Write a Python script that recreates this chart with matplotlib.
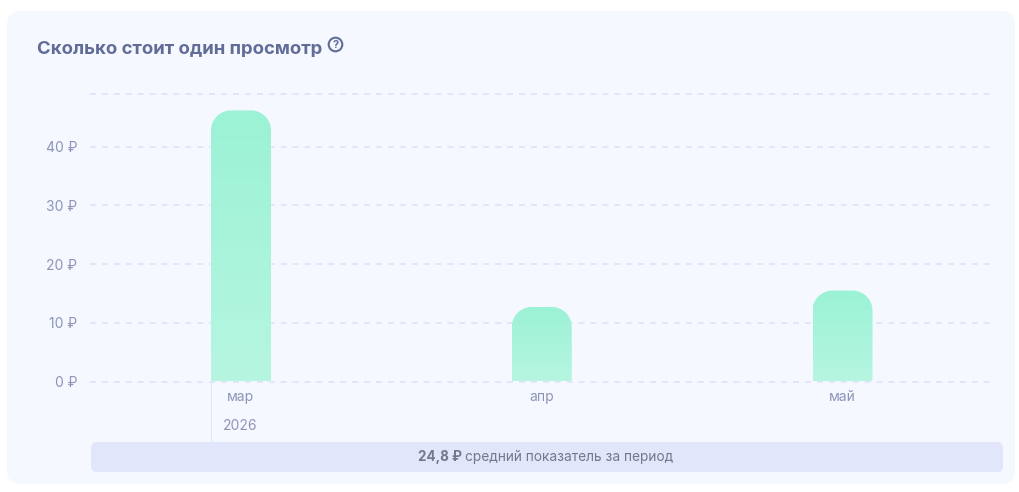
import numpy as np
import matplotlib.pyplot as plt
from matplotlib.colors import LinearSegmentedColormap
from matplotlib.patches import FancyBboxPatch, PathPatch, Circle
from matplotlib.path import Path

months = ["мар", "апр", "май"]
cost = [46.2, 12.7, 15.5]
y_ticks = [0, 10, 20, 30, 40, 49]
y_labels = ["0 ₽", "10 ₽", "20 ₽", "30 ₽", "40 ₽", ""]

plt.rcParams['font.family'] = ['Inter', 'DejaVu Sans']

W, H = 1019, 492
fig = plt.figure(figsize=(W / 100, H / 100), dpi=100, facecolor="white")

# background layer in pixel coords
bg = fig.add_axes([0, 0, 1, 1], zorder=0)
bg.set_xlim(0, W)
bg.set_ylim(H, 0)
bg.axis("off")

bg.add_patch(FancyBboxPatch((7, 11), 1008, 473, boxstyle="round,pad=0,rounding_size=14",
                            fc="#F5F8FF", ec="none"))
bg.add_patch(FancyBboxPatch((91, 442), 912, 30, boxstyle="round,pad=0,rounding_size=6",
                            fc="#E1E6FB", ec="none"))
bg.plot([211.5, 211.5], [382, 442], color="#E1E6FB", lw=0.8)

bg.text(37, 49.5, "Сколько стоит один просмотр", fontsize=13.35, fontweight="bold",
        color="#616C97", va="center", ha="left")
bg.add_patch(Circle((335.5, 44.5), 6.8, fc="none", ec="#616C97", lw=1.5))
bg.text(335.5, 44.8, "?", fontsize=8, fontweight="bold", color="#616C97", ha="center", va="center")

bg.text(240, 425.5, "2026", fontsize=10, color="#8E95B8", ha="center", va="center")
bg.text(418, 456.5, "24,8 ₽", fontsize=9.7, fontweight="bold", color="#73788F", ha="left", va="center")
bg.text(465, 456.5, "средний показатель за период", fontsize=9.9, color="#73788F", ha="left", va="center")

# chart layer
left, right, top, bottom = 90, 995, 94, 381.5
ax = fig.add_axes([left / W, 1 - bottom / H, (right - left) / W, (bottom - top) / H], zorder=1)
ax.patch.set_alpha(0)

x_per_px = 1 / 300.75
x_lo = -(241 - left) * x_per_px
x_hi = x_lo + (right - left) * x_per_px
y_per_px = 49 / (bottom - top)
bar_w = 60 * x_per_px
radius = 20
kappa = 0.5523

cmap = LinearSegmentedColormap.from_list("bar", ["#9BF2D5", "#B6F6E0"])

for i, val in enumerate(cost):
    x0, x1 = i - bar_w / 2, i + bar_w / 2
    rx, ry = radius * x_per_px, radius * y_per_px
    verts = [(x0, 0), (x0, val - ry),
             (x0, val - ry * (1 - kappa)), (x0 + rx * (1 - kappa), val), (x0 + rx, val),
             (x1 - rx, val),
             (x1 - rx * (1 - kappa), val), (x1, val - ry * (1 - kappa)), (x1, val - ry),
             (x1, 0), (x0, 0)]
    codes = [Path.MOVETO, Path.LINETO,
             Path.CURVE4, Path.CURVE4, Path.CURVE4,
             Path.LINETO,
             Path.CURVE4, Path.CURVE4, Path.CURVE4,
             Path.LINETO, Path.CLOSEPOLY]
    shape = PathPatch(Path(verts, codes), fc="none", ec="none", transform=ax.transData)
    ax.add_patch(shape)
    im = ax.imshow(np.linspace(0, 1, 256).reshape(-1, 1), cmap=cmap, aspect="auto",
                   extent=(x0, x1, 0, val), origin="upper", zorder=2)
    im.set_clip_path(shape)

ax.set_xlim(x_lo, x_hi)
ax.set_ylim(0, 49)
ax.set_xticks(range(len(months)))
ax.set_xticklabels(months)
ax.set_yticks(y_ticks)
ax.set_yticklabels(y_labels)
ax.tick_params(axis="x", length=0, pad=6, labelsize=10, labelcolor="#8E95B8")
ax.tick_params(axis="y", length=0, pad=9, labelsize=10, labelcolor="#8E95B8")
ax.grid(axis="y", color="#DCE1FA", lw=1.1, linestyle=(0, (3.9, 3.9)))
ax.set_axisbelow(True)
for spine in ax.spines.values():
    spine.set_visible(False)
for line in ax.get_ygridlines():
    line.set_clip_on(False)

fig.savefig("out.png", dpi=100)
